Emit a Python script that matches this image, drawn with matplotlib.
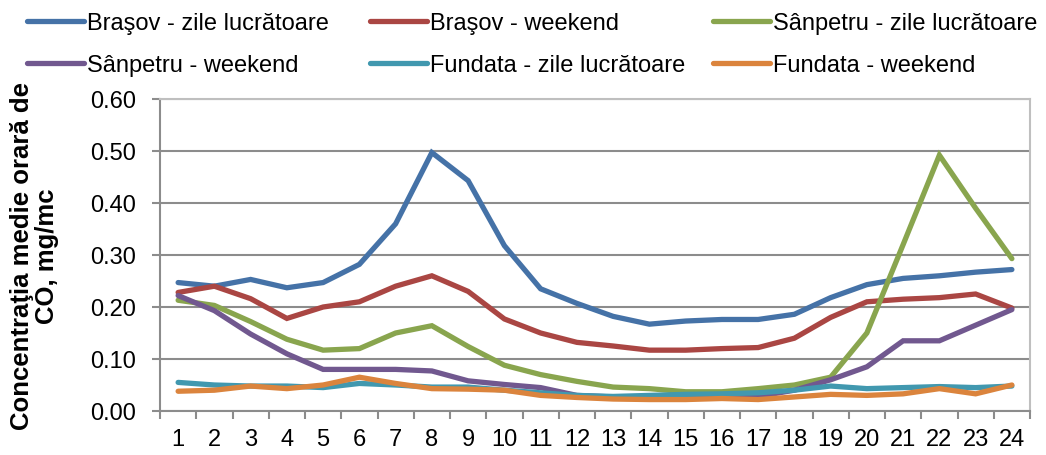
import numpy as np
import matplotlib.pyplot as plt

plt.rcParams['font.family'] = ['Liberation Sans', 'DejaVu Sans']

# ore 1..24
ore = list(range(1, 25))

brasov_lucru = [0.247, 0.240, 0.253, 0.237, 0.247, 0.282, 0.360, 0.497, 0.443, 0.318, 0.235, 0.207,
                0.182, 0.167, 0.173, 0.176, 0.176, 0.186, 0.218, 0.243, 0.255, 0.260, 0.267, 0.272]
brasov_weekend = [0.228, 0.240, 0.216, 0.178, 0.200, 0.210, 0.240, 0.260, 0.230, 0.177, 0.150, 0.132,
                  0.125, 0.117, 0.117, 0.120, 0.122, 0.140, 0.180, 0.210, 0.215, 0.218, 0.225, 0.198]
sanpetru_lucru = [0.213, 0.203, 0.172, 0.138, 0.117, 0.120, 0.150, 0.164, 0.124, 0.088, 0.070, 0.057,
                  0.046, 0.043, 0.037, 0.037, 0.043, 0.050, 0.065, 0.150, 0.320, 0.492, 0.390, 0.293]
sanpetru_weekend = [0.222, 0.193, 0.148, 0.110, 0.080, 0.080, 0.080, 0.077, 0.058, 0.051, 0.045, 0.030,
                    0.027, 0.025, 0.027, 0.030, 0.028, 0.040, 0.060, 0.085, 0.135, 0.135, 0.165, 0.195]
fundata_lucru = [0.055, 0.050, 0.048, 0.048, 0.045, 0.053, 0.050, 0.046, 0.046, 0.040, 0.035, 0.030,
                 0.028, 0.030, 0.032, 0.033, 0.035, 0.040, 0.048, 0.043, 0.045, 0.047, 0.045, 0.048]
fundata_weekend = [0.038, 0.040, 0.048, 0.043, 0.050, 0.065, 0.053, 0.043, 0.042, 0.040, 0.030, 0.026,
                   0.023, 0.022, 0.022, 0.024, 0.022, 0.027, 0.032, 0.030, 0.033, 0.043, 0.033, 0.050]

serii = [
    ('Braşov - zile lucrătoare', brasov_lucru, '#4572A7'),
    ('Braşov - weekend', brasov_weekend, '#AA4643'),
    ('Sânpetru - zile lucrătoare', sanpetru_lucru, '#89A54E'),
    ('Sânpetru - weekend', sanpetru_weekend, '#71588F'),
    ('Fundata - zile lucrătoare', fundata_lucru, '#4198AF'),
    ('Fundata - weekend', fundata_weekend, '#DB843D'),
]

FS = 17

fig = plt.figure(figsize=(10.46, 4.56), dpi=100)
ax = fig.add_axes([160 / 1046, 44 / 456, 870 / 1046, 312 / 456])

linii = []
for nume, y, culoare in serii:
    l, = ax.plot(ore, y, color=culoare, lw=3.8, label=nume, solid_capstyle='round', solid_joinstyle='miter')
    linii.append(l)

ax.set_xlim(0.5, 24.5)
ax.set_ylim(0, 0.6)
ax.set_yticks(np.arange(0, 0.61, 0.1))
ax.set_yticklabels(['%.2f' % v for v in np.arange(0, 0.61, 0.1)], fontsize=FS)
ax.set_xticks(ore)
ax.set_xticklabels([str(o) for o in ore], fontsize=FS)
ax.set_xticks(np.arange(0.5, 24.6, 1), minor=True)
ax.tick_params(axis='x', which='major', length=0, pad=12)
ax.tick_params(axis='x', which='minor', length=6, color='#8c8c8c', width=1.5)
ax.tick_params(axis='y', length=6, color='#8c8c8c', width=1.5, pad=11)
ax.grid(axis='y', color='#8c8c8c', lw=1.5)
ax.set_axisbelow(True)
for s in ['left', 'bottom']:
    ax.spines[s].set_color('#8c8c8c')
    ax.spines[s].set_linewidth(1.5)
for s in ['top', 'right']:
    ax.spines[s].set_color('#bfbfbf')
    ax.spines[s].set_linewidth(1.5)

fig.text(0.033, 0.5 * (44 + 356) / 456, 'Concentraţia medie orară de\nCO, mg/mc', rotation=90,
         ha='center', va='center', fontsize=18.5, fontweight='bold', linespacing=1.05)

# legenda: 3 coloane, 2 randuri
col_x = [27, 370, 713]
for i, x0 in enumerate(col_x):
    hs = [linii[i], linii[i + 3]]
    leg = fig.legend(hs, [h.get_label() for h in hs], loc='upper left',
                     bbox_to_anchor=(x0 / 1046, 1 - 13 / 456), frameon=False,
                     fontsize=FS, handlelength=2.4, handletextpad=0.13,
                     labelspacing=0.85, borderaxespad=0, borderpad=0)

fig.savefig('out.png', dpi=100)
